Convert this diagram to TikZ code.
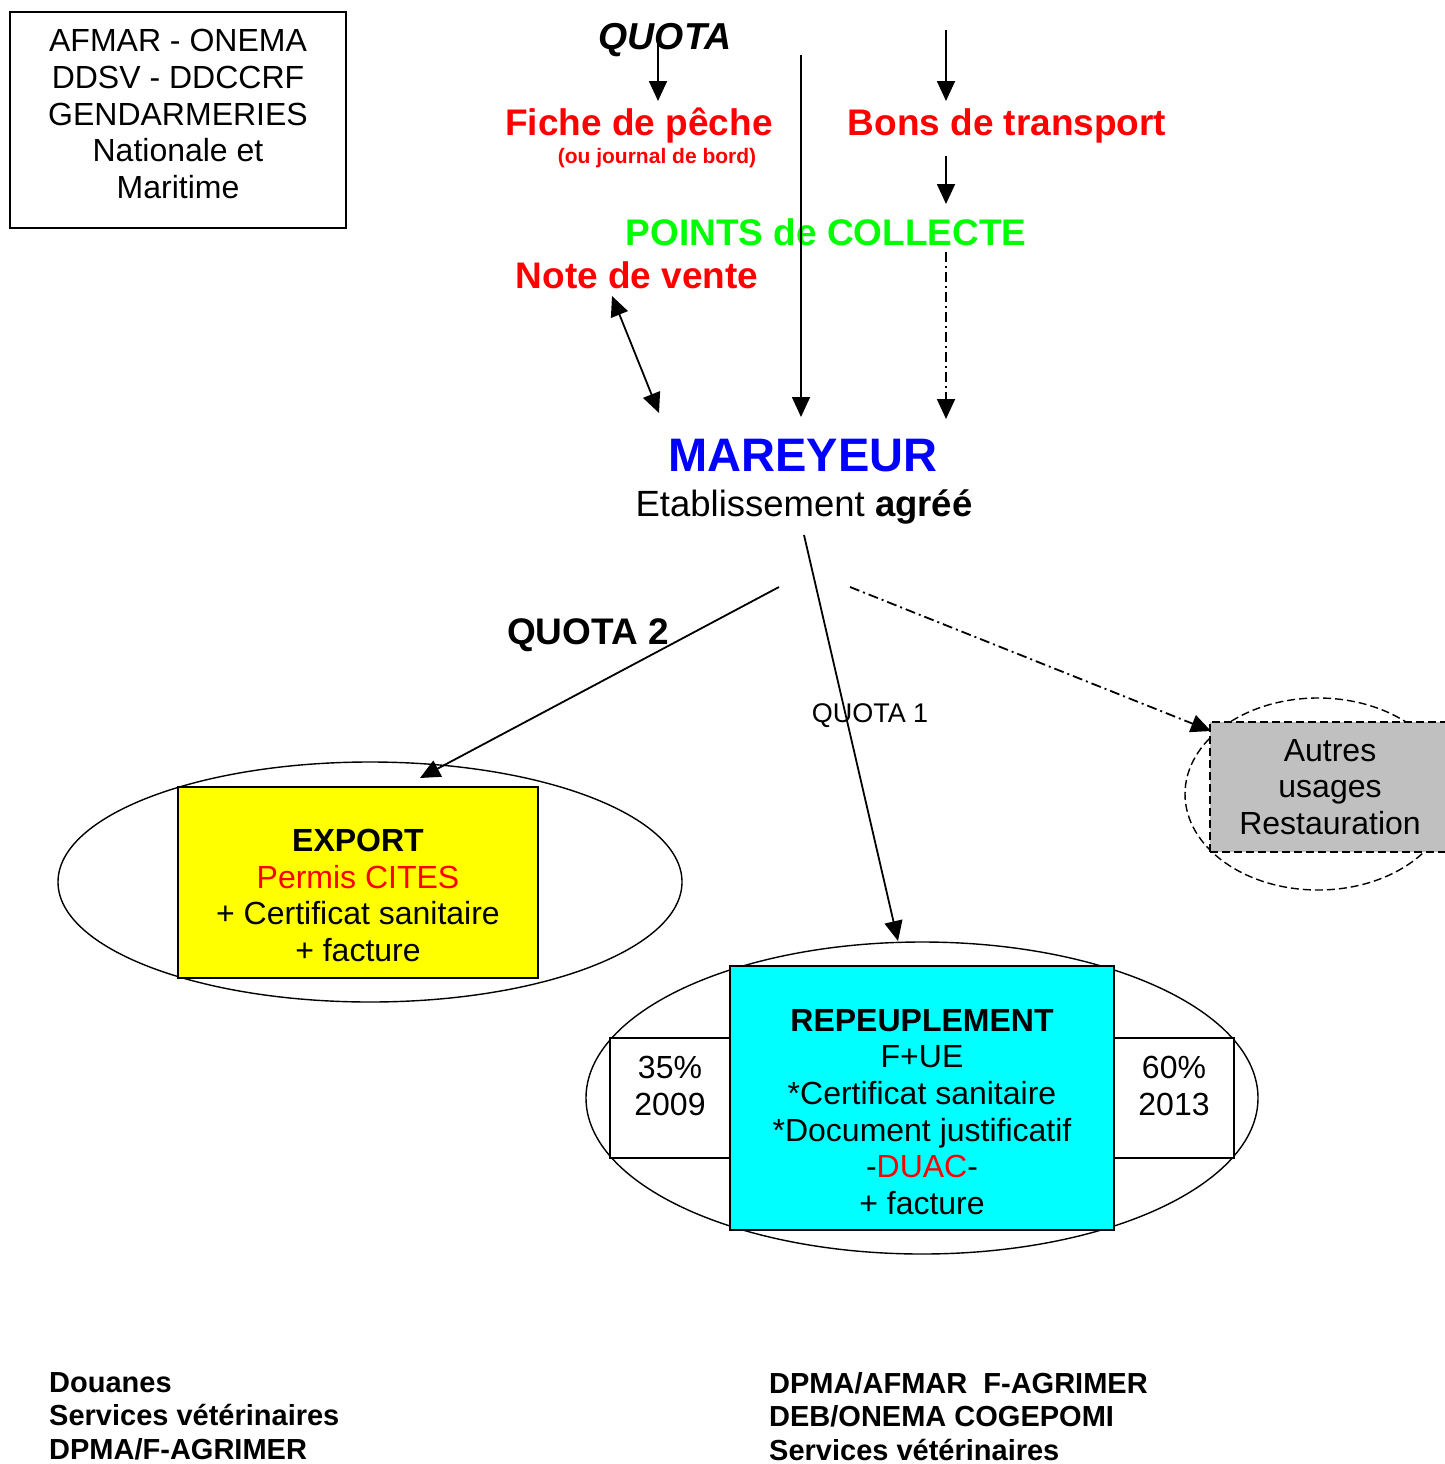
\documentclass[tikz,border=0pt]{standalone}
\usepackage{fontspec}
\setmainfont{Liberation Sans}
\usetikzlibrary{arrows.meta,shapes.geometric}
\definecolor{boxgray}{RGB}{192,192,192}
\definecolor{pred}{RGB}{255,0,0}
\definecolor{pgreen}{RGB}{0,255,0}
\definecolor{pblue}{RGB}{0,0,255}
\definecolor{pyellow}{RGB}{255,255,0}
\definecolor{pcyan}{RGB}{0,255,255}
\tikzset{
  txt/.style={inner sep=0pt, align=center},
  fA/.style={font=\fontsize{32}{36.7}\selectfont},
  fB/.style={font=\bfseries\fontsize{37}{42}\selectfont},
  fC/.style={font=\bfseries\fontsize{29}{33.5}\selectfont},
  arr/.style={line width=1.8pt, -{Triangle[width=18pt,length=20pt]}},
  darr/.style={line width=1.8pt, {Triangle[width=18pt,length=20pt]}-{Triangle[width=18pt,length=20pt]}},
  dashdot/.style={dash pattern=on 10pt off 4pt on 2pt off 4pt},
  ell/.style={draw, ellipse, inner sep=0pt, line width=1.4pt},
  rbox/.style={draw, rectangle, inner sep=0pt, line width=1.8pt},
}
\begin{document}
\begin{tikzpicture}[x=1pt,y=-1pt]
\useasboundingbox (0,0) rectangle (1445,1464);

% organisation box
\node[rbox, minimum width=336pt, minimum height=216pt] (orgbox) at (178,120) {};
\node[txt, fA] (orgtxt) at (178,114) {AFMAR - ONEMA\\DDSV - DDCCRF\\GENDARMERIES\\Nationale et\\Maritime};

% top labels
\node[txt, anchor=base, font=\bfseries\itshape\fontsize{37.5}{42}\selectfont] (quota) at (665,49) {QUOTA};
\node[txt, anchor=base, fB, text=pred] (fiche) at (639,135) {Fiche de pêche};
\node[txt, anchor=base, font=\bfseries\fontsize{21}{25}\selectfont, text=pred] (journal) at (657,163) {(ou journal de bord)};
\node[txt, anchor=base, fB, text=pred] (bons) at (1007,135) {Bons de transport};
\node[txt, anchor=base, fB, text=pgreen] (points) at (826,245) {POINTS de COLLECTE};
\node[txt, anchor=base, fB, text=pred] (note) at (637,288) {Note de vente};
\node[txt, anchor=base, font=\bfseries\fontsize{47}{52}\selectfont, text=pblue] (mar) at (803,471) {MAREYEUR};
\node[txt, anchor=base, font=\fontsize{36.5}{42}\selectfont] (etab) at (804,516) {Etablissement \textbf{agréé}};
\node[txt, anchor=base, fB] (quota2) at (588,644) {QUOTA 2};
\node[txt, anchor=base, font=\fontsize{27}{31}\selectfont] (quota1) at (870,722) {QUOTA 1};

% coordinates for connector ends
\coordinate (q1) at (658,40);
\coordinate (q1e) at (658,101);
\coordinate (v1) at (801,55);
\coordinate (v1e) at (801,417);
\coordinate (b1) at (946,30);
\coordinate (b1e) at (946,101);
\coordinate (b2) at (946,156);
\coordinate (b2e) at (946,204);
\coordinate (p1) at (946,252);
\coordinate (p1e) at (946,419);
\coordinate (n1) at (612,296);
\coordinate (n1e) at (659,413);
\coordinate (m1) at (804,535);
\coordinate (m1e) at (898,941);
\coordinate (m2) at (779,587);
\coordinate (m2e) at (420,778);
\coordinate (m3) at (850,587);
\coordinate (m3e) at (1211,731);

% EXPORT
\node[ell, minimum width=624pt, minimum height=240pt] (exell) at (370,882) {};
\node[rbox, fill=pyellow, minimum width=360pt, minimum height=191pt] (exbox) at (358,882.5) {};
\node[txt, fA] (extxt) at (358,895.5) {\textbf{EXPORT}\\\textcolor{pred}{Permis CITES}\\+ Certificat sanitaire\\+ facture};

% AUTRES USAGES
\node[ell, dashed, dash pattern=on 8pt off 4pt, minimum width=266pt, minimum height=192pt] (auell) at (1318,794) {};
\node[rbox, fill=boxgray, dash pattern=on 8pt off 4pt, minimum width=240pt, minimum height=130pt, fA, align=center] (aubox) at (1330,787) {Autres\\usages\\Restauration};

% REPEUPLEMENT
\node[ell, minimum width=672pt, minimum height=312pt] (reell) at (922,1098) {};
\node[rbox, fill=white, minimum width=120pt, minimum height=120pt] (lbox) at (670,1098) {};
\node[rbox, fill=white, minimum width=120pt, minimum height=120pt] (rbx) at (1174,1098) {};
\node[rbox, fill=pcyan, minimum width=384pt, minimum height=264pt] (rebox) at (922,1098) {};
\node[txt, fA] (ltxt) at (670,1086) {35\%\\2009};
\node[txt, fA] (rtxt) at (1174,1086) {60\%\\2013};
\node[txt, fA] (retxt) at (922,1112) {\textbf{REPEUPLEMENT}\\F+UE\\*Certificat sanitaire\\*Document justificatif\\-\textcolor{pred}{DUAC}-\\+ facture};

% connectors
\draw[arr] (q1) -- (q1e);
\draw[arr] (v1) -- (v1e);
\draw[arr] (b1) -- (b1e);
\draw[arr] (b2) -- (b2e);
\draw[arr, dashdot] (p1) -- (p1e);
\draw[darr] (n1) -- (n1e);
\draw[arr] (m1) -- (m1e);
\draw[arr] (m2) -- (m2e);
\draw[arr, dashdot] (m3) -- (m3e);

% bottom texts
\node[txt, fC, align=left, anchor=north west] (botl) at (49,1372) {Douanes\\Services vétérinaires\\DPMA/F-AGRIMER};
\node[txt, fC, align=left, anchor=north west] (botr) at (769,1372) {DPMA/AFMAR\ \ F-AGRIMER\\DEB/ONEMA COGEPOMI\\Services vétérinaires};
\end{tikzpicture}
\end{document}
